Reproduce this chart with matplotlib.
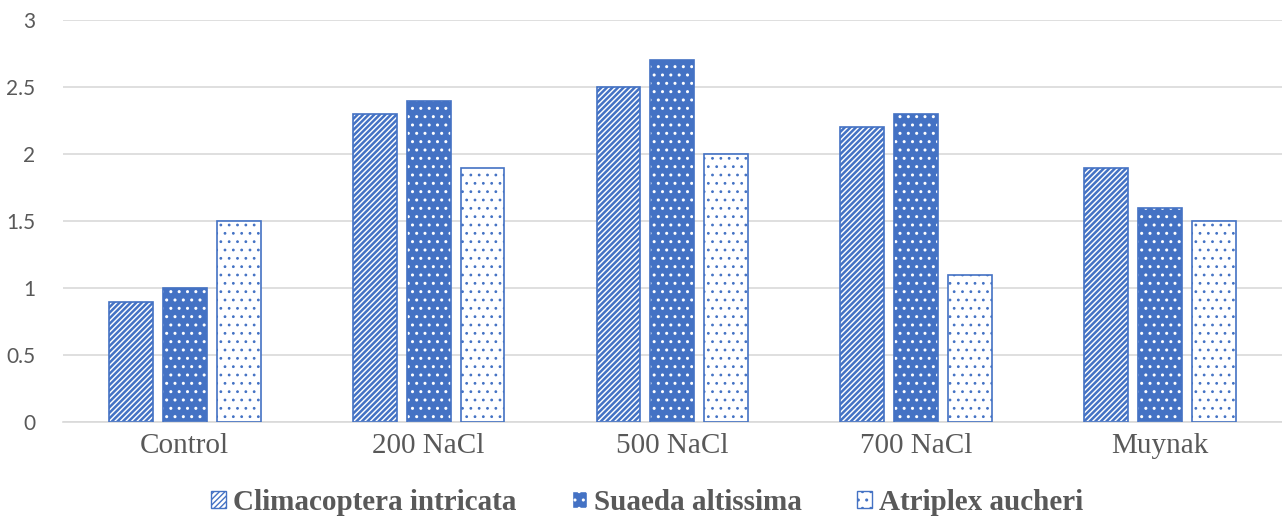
import numpy as np
import matplotlib
matplotlib.use("Agg")
import matplotlib.pyplot as plt
from matplotlib.patches import Patch

categories = ["Control", "200 NaCl", "500 NaCl", "700 NaCl", "Muynak"]
series_names = ["Climacoptera intricata", "Suaeda altissima", "Atriplex aucheri"]
climacoptera = [0.9, 2.3, 2.5, 2.2, 1.9]
suaeda = [1.0, 2.4, 2.7, 2.3, 1.6]
atriplex = [1.5, 1.9, 2.0, 1.1, 1.5]

blue = "#4472C4"
grey = "#595959"

fig = plt.figure(figsize=(12.82, 5.29), dpi=100)
ax = fig.add_axes([0.049, 0.202, 0.951, 0.760])

x = np.arange(len(categories))
w = 0.18
off = 0.221


def set_hlw(patches, lw):
    for p in patches:
        if hasattr(p, "set_hatch_linewidth"):
            p.set_hatch_linewidth(lw)


# series 1: white with dense blue diagonal stripes
b = ax.bar(x - off, climacoptera, w, facecolor="white", edgecolor=blue, hatch="//////", linewidth=0, zorder=2)
set_hlw(b, 1.8)
ax.bar(x - off, climacoptera, w, fill=False, edgecolor=blue, linewidth=1.2, zorder=3)

# series 2: blue with white dots
b = ax.bar(x, suaeda, w, facecolor=blue, edgecolor="white", hatch="..", linewidth=0, zorder=2)
set_hlw(b, 1.0)
ax.bar(x, suaeda, w, fill=False, edgecolor=blue, linewidth=1.2, zorder=3)

# series 3: white with sparse blue dots
b = ax.bar(x + off, atriplex, w, facecolor="white", edgecolor=blue, hatch="..", linewidth=0, zorder=2)
set_hlw(b, 0.8)
ax.bar(x + off, atriplex, w, fill=False, edgecolor=blue, linewidth=1.2, zorder=3)

ax.set_xlim(-0.5, len(categories) - 0.5)
ax.set_ylim(0, 3)
ax.set_yticks(np.arange(0, 3.01, 0.5))
ax.set_yticklabels(["0", "0.5", "1", "1.5", "2", "2.5", "3"])
ax.yaxis.grid(True, color="#D9D9D9", linewidth=1.2, zorder=0)
ax.set_axisbelow(True)
for s in ["top", "right", "left"]:
    ax.spines[s].set_visible(False)
ax.spines["bottom"].set_color("#D9D9D9")
ax.spines["bottom"].set_linewidth(1.2)
ax.tick_params(axis="both", length=0, colors=grey)
ax.tick_params(axis="y", labelsize=15, pad=20)
for t in ax.get_yticklabels():
    t.set_fontfamily("Lato")
ax.set_xticks(x)
ax.set_xticklabels(categories, fontfamily="Liberation Serif", fontsize=21, color=grey)
ax.tick_params(axis="x", pad=8)

handles = [
    Patch(facecolor="white", edgecolor=blue, hatch="//////", linewidth=1),
    Patch(facecolor=blue, edgecolor="white", hatch="..", linewidth=1),
    Patch(facecolor="white", edgecolor=blue, hatch="..", linewidth=1),
]
leg = fig.legend(handles, series_names, loc="center", bbox_to_anchor=(0.505, 0.05), ncol=3,
                 frameon=False, handlelength=0.5, handleheight=0.5, handletextpad=0.25,
                 columnspacing=1.9, prop={"family": "Liberation Serif", "weight": "bold", "size": 21})
for t in leg.get_texts():
    t.set_color(grey)

fig.savefig("out.png", dpi=100)
